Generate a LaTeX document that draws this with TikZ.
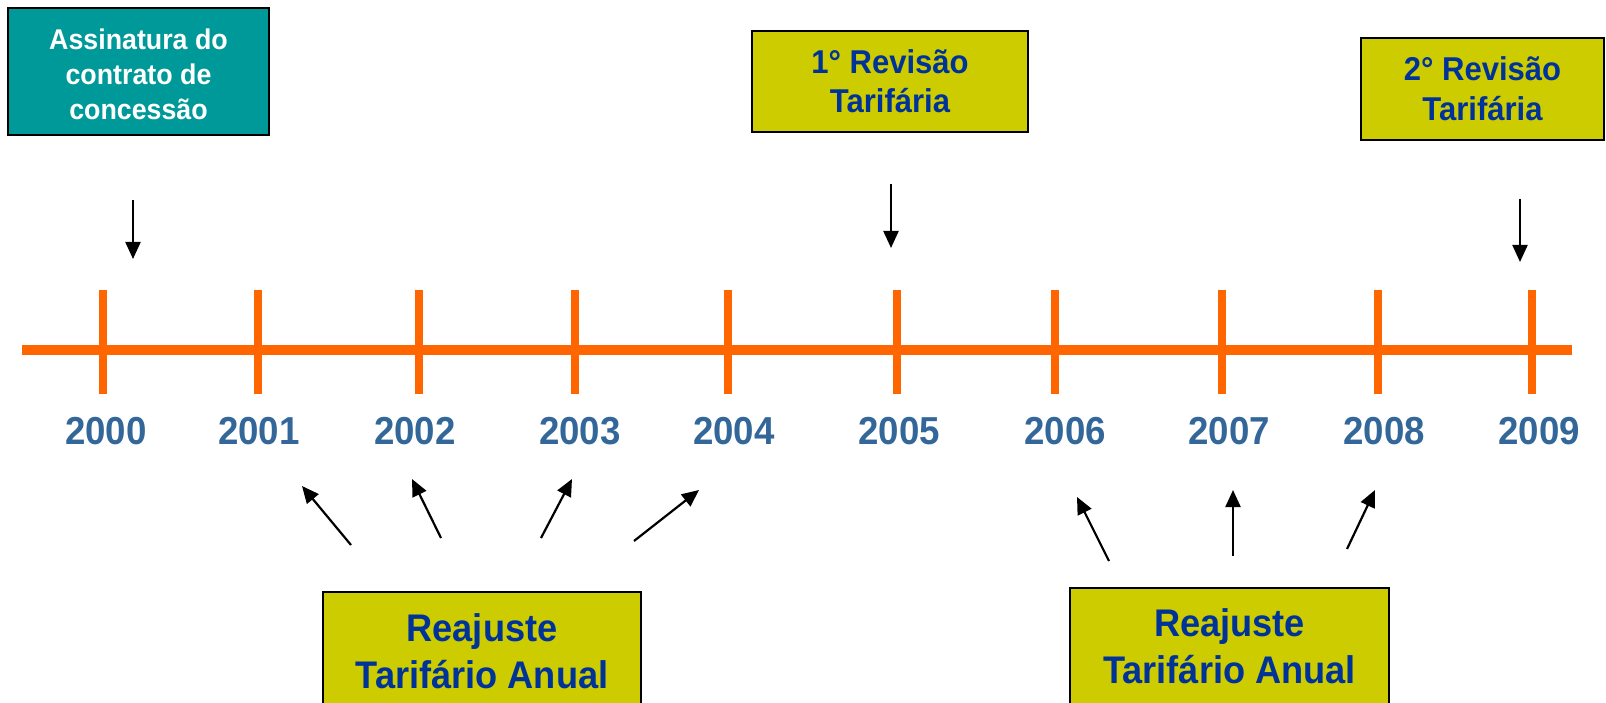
\documentclass[tikz,border=0pt]{standalone}
\usepackage{fontspec}
\setmainfont{Liberation Sans}[FakeStretch=0.94]
\usetikzlibrary{arrows.meta}
\definecolor{tlorange}{HTML}{FF6600}
\definecolor{yearblue}{HTML}{336699}
\definecolor{boxblue}{HTML}{003399}
\definecolor{boxyellow}{HTML}{CCCC00}
\definecolor{boxteal}{HTML}{009999}
\begin{document}
\begin{tikzpicture}[x=1pt,y=-1pt,
  yearlbl/.style={font=\fontsize{39}{46}\selectfont\bfseries, text=yearblue, anchor=base, inner sep=0pt},
  boxbase/.style={draw=black, line width=1.6pt, align=center, inner sep=0pt},
  ybox/.style={boxbase, fill=boxyellow, text=boxblue},
  tbox/.style={boxbase, fill=boxteal, text=white},
  pointer/.style={line width=2.2pt, -{Triangle[length=17pt,width=15pt]}},
  ticmark/.style={draw=tlorange, line width=8.5pt},
]
\useasboundingbox (0,0) rectangle (1606,703);
\clip (0,0) rectangle (1606,703);

% timeline
\coordinate (lineL) at (22,350);
\coordinate (lineR) at (1572,350);
\draw[ticmark, line width=9.5pt] (lineL) -- (lineR);

% ticks and years
\foreach \yr/\tx/\lx in {2000/103/106, 2001/258/259, 2002/419/415, 2003/575/580, 2004/728/734, 2005/897/899, 2006/1055/1065, 2007/1222/1229, 2008/1378/1384, 2009/1532/1539}{
  \coordinate (ta\yr) at (\tx,290);
  \coordinate (tb\yr) at (\tx,394);
  \draw[ticmark] (ta\yr) -- (tb\yr);
  \node[yearlbl] (y\yr) at (\lx,444) {\yr};
}

% boxes
\node[tbox, minimum width=261pt, minimum height=127pt,
      font=\fontsize{28.5}{35}\selectfont\bfseries] (assin) at (138.5,71.5)
      {\rule{0pt}{26pt}Assinatura do\\contrato de\\concessão};
\node[ybox, minimum width=276pt, minimum height=101pt,
      font=\fontsize{33}{39}\selectfont\bfseries] (rev1) at (890,81.5)
      {1° Revisão\\Tarifária};
\node[ybox, minimum width=243pt, minimum height=102pt,
      font=\fontsize{33}{40}\selectfont\bfseries] (rev2) at (1482.5,89)
      {2° Revisão\\Tarifária};
\node[ybox, minimum width=318pt, minimum height=118pt,
      font=\fontsize{38.5}{47}\selectfont\bfseries] (reaj1) at (482,651)
      {Reajuste\\Tarifário Anual};
\node[ybox, minimum width=319pt, minimum height=117pt,
      font=\fontsize{38.5}{47}\selectfont\bfseries] (reaj2) at (1229.5,646.5)
      {Reajuste\\Tarifário Anual};

% down arrows
\coordinate (d1s) at (133,200); \coordinate (d1e) at (133,259);
\coordinate (d2s) at (891,184); \coordinate (d2e) at (891,248);
\coordinate (d3s) at (1520,199); \coordinate (d3e) at (1520,262);
\draw[pointer] (d1s) -- (d1e);
\draw[pointer] (d2s) -- (d2e);
\draw[pointer] (d3s) -- (d3e);

% up arrows, left group
\coordinate (a1s) at (351,545); \coordinate (a1e) at (302,486);
\coordinate (a2s) at (441,538); \coordinate (a2e) at (412,479);
\coordinate (a3s) at (541,538); \coordinate (a3e) at (572,479);
\coordinate (a4s) at (634,541); \coordinate (a4e) at (699,490);
\draw[pointer] (a1s) -- (a1e);
\draw[pointer] (a2s) -- (a2e);
\draw[pointer] (a3s) -- (a3e);
\draw[pointer] (a4s) -- (a4e);

% up arrows, right group
\coordinate (b1s) at (1109,561); \coordinate (b1e) at (1077,497);
\coordinate (b2s) at (1233,556); \coordinate (b2e) at (1233,490);
\coordinate (b3s) at (1347,549); \coordinate (b3e) at (1375,490);
\draw[pointer] (b1s) -- (b1e);
\draw[pointer] (b2s) -- (b2e);
\draw[pointer] (b3s) -- (b3e);
\end{tikzpicture}
\end{document}
